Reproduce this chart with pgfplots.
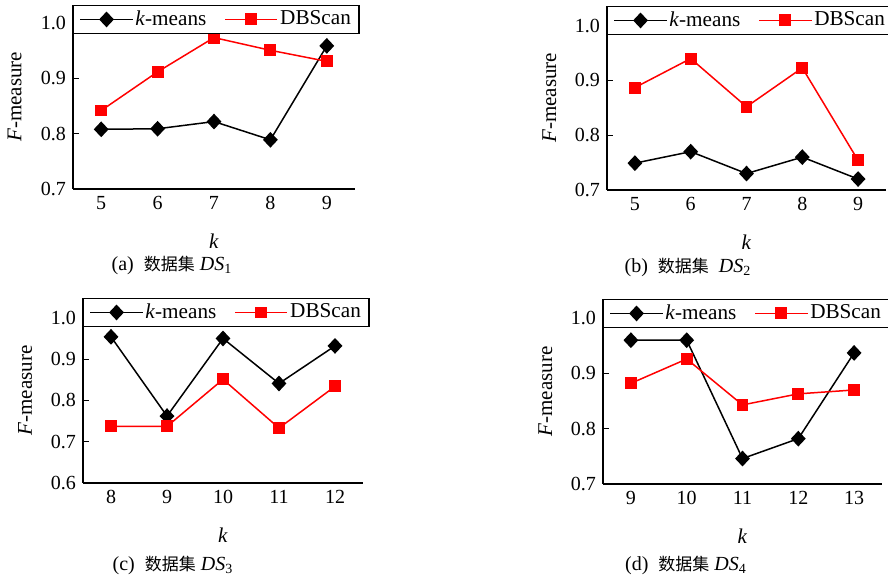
\documentclass[border=0pt]{standalone}
\usepackage{fontspec}
\setmainfont{Liberation Serif}
\newfontfamily\cjk[Scale=0.85]{Noto Sans CJK SC}
\usepackage{pgfplots}
\pgfplotsset{compat=1.18}

\pgfplotsset{
  panel/.style={
    scale only axis,
    clip=false,
    axis x line*=bottom, axis y line*=left,
    axis line style={line width=0.6pt},
    tick align=inside,
    xtick style={draw=none},
    minor tick length=4pt,
    major tick length=3pt,
    minor x tick style={line width=0.6pt, black},
    ytick style={line width=0.6pt, black},
    /pgf/number format/assume math mode=true,
    yticklabel style={/pgf/number format/.cd, fixed, fixed zerofill, precision=1},
    tick label style={font=\fontsize{10}{12}\selectfont},
    xlabel={\textit{k}},
    ylabel={\textit{F}-measure},
    label style={font=\fontsize{10.5}{12}\selectfont},
    xlabel style={at={(axis description cs:0.5,0)}, anchor=center, yshift=-26pt},
    ylabel style={at={(axis description cs:-0.207,0.5)}, anchor=center},
    legend columns=2,
    legend style={at={(0,1)}, anchor=north west, draw=black, line width=0.6pt, fill=white,
      font=\fontsize{10.6}{12}\selectfont,
      inner xsep=3pt, inner ysep=1pt,
      nodes={inner xsep=1pt, inner ysep=1.5pt},
      /tikz/every even column/.append style={column sep=8pt}},
    legend image code/.code={\draw[mark repeat=2, mark phase=2, #1] plot coordinates {(0cm,0cm) (0.46cm,0cm) (0.92cm,0cm)};},
    every axis plot/.append style={line width=0.75pt},
  },
  kmeans/.style={black, mark=diamond*, mark size=3.4pt, mark options={solid, fill=black, xscale=1.25}},
  dbs/.style={red, mark=square*, mark size=2.6pt, mark options={solid, fill=red}},
}

\begin{document}
\begin{tikzpicture}
\path[use as bounding box] (0,0) rectangle (444pt,288pt);

% (a)
\begin{axis}[panel, at={(36.5pt,193.5pt)}, anchor=south west,
  width=141pt, height=92pt,
  xmin=4.5, xmax=9.5, ymin=0.7, ymax=1.033,
  xtick={5,6,7,8,9}, minor xtick={5.5,6.5,7.5,8.5},
  ytick={0.7,0.8,0.9,1.0}]
\addplot[kmeans] coordinates {(5,0.808) (6,0.809) (7,0.822) (8,0.789) (9,0.959)};
\addplot[dbs] coordinates {(5,0.842) (6,0.912) (7,0.974) (8,0.951) (9,0.931)};
\legend{\textit{k}-means, DBScan}
\end{axis}

% (b)
\begin{axis}[panel, at={(303.5pt,193pt)}, anchor=south west,
  width=139.5pt, height=92pt,
  xmin=4.5, xmax=9.5, ymin=0.7, ymax=1.036,
  xtick={5,6,7,8,9}, minor xtick={5.5,6.5,7.5,8.5},
  ytick={0.7,0.8,0.9,1.0}]
\addplot[kmeans] coordinates {(5,0.749) (6,0.770) (7,0.730) (8,0.760) (9,0.720)};
\addplot[dbs] coordinates {(5,0.887) (6,0.940) (7,0.852) (8,0.923) (9,0.754)};
\legend{\textit{k}-means, DBScan}
\end{axis}

% (c)
\begin{axis}[panel, at={(41.5pt,46.5pt)}, anchor=south west,
  width=140pt, height=92.5pt,
  xmin=7.5, xmax=12.5, ymin=0.6, ymax=1.048,
  xtick={8,9,10,11,12}, minor xtick={8.5,9.5,10.5,11.5},
  ytick={0.6,0.7,0.8,0.9,1.0}]
\addplot[kmeans] coordinates {(8,0.954) (9,0.762) (10,0.950) (11,0.841) (12,0.932)};
\addplot[dbs] coordinates {(8,0.737) (9,0.737) (10,0.851) (11,0.733) (12,0.834)};
\legend{\textit{k}-means, DBScan}
\end{axis}

% (d)
\begin{axis}[panel, at={(301.5pt,46pt)}, anchor=south west,
  width=139.5pt, height=92.5pt,
  xmin=8.5, xmax=13.5, ymin=0.7, ymax=1.0345,
  xtick={9,10,11,12,13}, minor xtick={9.5,10.5,11.5,12.5},
  ytick={0.7,0.8,0.9,1.0}]
\addplot[kmeans] coordinates {(9,0.960) (10,0.960) (11,0.746) (12,0.782) (13,0.937)};
\addplot[dbs] coordinates {(9,0.882) (10,0.926) (11,0.843) (12,0.863) (13,0.870)};
\legend{\textit{k}-means, DBScan}
\end{axis}

\node[anchor=center, inner sep=0pt] at (86pt,155.5pt) {(a)\ \ {\cjk 数据集} \textit{DS}\textsubscript{1}};
\node[anchor=center, inner sep=0pt] at (344pt,154.5pt) {(b)\ \ {\cjk 数据集}\ \ \textit{DS}\textsubscript{2}};
\node[anchor=center, inner sep=0pt] at (86.5pt,5.5pt) {(c)\ \ {\cjk 数据集} \textit{DS}\textsubscript{3}};
\node[anchor=center, inner sep=0pt] at (343pt,5.5pt) {(d)\ \ {\cjk 数据集} \textit{DS}\textsubscript{4}};
\end{tikzpicture}
\end{document}
